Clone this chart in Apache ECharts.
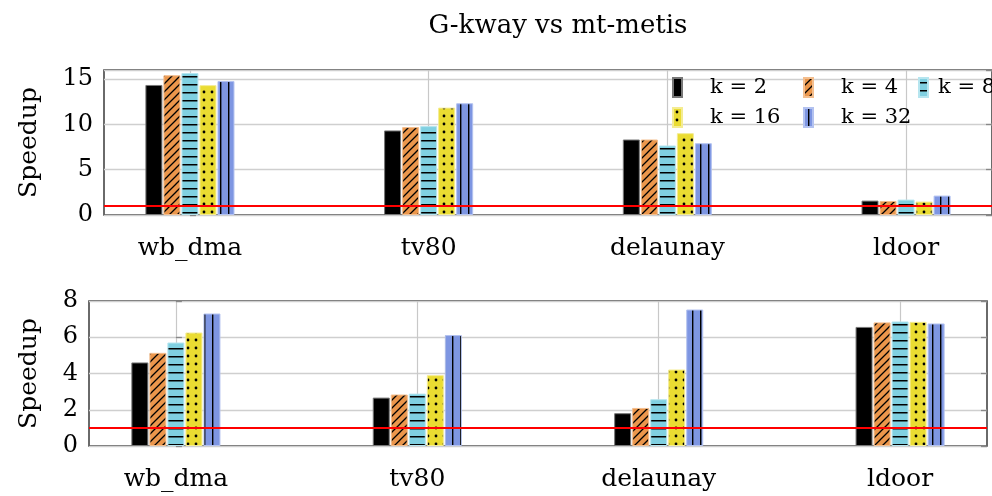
<!DOCTYPE html>
<html><head><meta charset="utf-8">
<script src="https://cdn.jsdelivr.net/npm/echarts@6/dist/echarts.min.js"></script>
<style>html,body{margin:0;padding:0;background:#fff}#c{width:992px;height:496px}</style>
</head><body><div id="c"></div>
<script>
// ---- data ----
const categories = ['wb_dma', 'tv80', 'delaunay', 'ldoor'];
const seriesNames = ['k = 2', 'k = 4', 'k = 8', 'k = 16', 'k = 32'];
const titleText = 'G-kway vs mt-metis';
const yName = 'Speedup';
// top panel
const topK2  = [14.35, 9.33, 8.33, 1.59];
const topK4  = [15.42, 9.70, 8.33, 1.55];
const topK8  = [15.67, 9.81, 7.67, 1.70];
const topK16 = [14.33, 11.85, 9.03, 1.48];
const topK32 = [14.78, 12.33, 7.92, 2.14];
// bottom panel
const botK2  = [4.61, 2.67, 1.81, 6.57];
const botK4  = [5.14, 2.84, 2.10, 6.82];
const botK8  = [5.71, 2.89, 2.58, 6.87];
const botK16 = [6.26, 3.91, 4.22, 6.85];
const botK32 = [7.31, 6.12, 7.53, 6.76];
const baseline = 1;

// ---- styles ----
const FONT = 'DejaVu Serif';
const fills = ['#000000', '#EB964B', '#80D0E1', '#EADC32', '#7E96E2'];
const borders = ['#777777', '#F3BE8E', '#B6E5EF', '#F4EC92', '#B3C2F0'];

function pattern(bg, draw) {
  const c = document.createElement('canvas');
  c.width = 8; c.height = 8;
  const g = c.getContext('2d');
  g.fillStyle = bg; g.fillRect(0, 0, 8, 8);
  g.fillStyle = '#000'; g.strokeStyle = '#000';
  draw(g);
  return { image: c, repeat: 'repeat' };
}
const patterns = [
  fills[0],
  pattern(fills[1], g => {
    g.lineWidth = 1.3;
    g.beginPath();
    g.moveTo(0, 8); g.lineTo(8, 0);
    g.moveTo(-1, 1); g.lineTo(1, -1);
    g.moveTo(7, 9); g.lineTo(9, 7);
    g.stroke();
  }),
  pattern(fills[2], g => { g.fillRect(0, 4, 8, 1.5); }),
  pattern(fills[3], g => { g.beginPath(); g.arc(4, 4, 1.4, 0, Math.PI * 2); g.fill(); }),
  pattern(fills[4], g => { g.fillRect(4, 0, 1.4, 8); })
];

const topData = [topK2, topK4, topK8, topK16, topK32];
const botData = [botK2, botK4, botK8, botK16, botK32];

const xMin = -0.36, xMax = 3.36;
const catIdx = categories.map((c, i) => i);

function xAxisFor(g) {
  return {
    type: 'value', gridIndex: g, min: xMin, max: xMax,
    axisLine: { show: false },
    axisTick: { show: false, customValues: catIdx },
    splitLine: { show: true, lineStyle: { color: '#c8c8c8', width: 1.2 } },
    axisLabel: {
      customValues: catIdx, margin: 21,
      formatter: v => categories[Math.round(v)],
      fontFamily: FONT, fontSize: 25, color: '#000'
    }
  };
}
function yAxisFor(g, max, interval, gap) {
  return {
    type: 'value', gridIndex: g, min: 0, max: max, interval: interval,
    name: yName, nameLocation: 'middle', nameRotate: 90, nameGap: gap,
    nameTextStyle: { fontFamily: FONT, fontSize: 25, color: '#000' },
    axisLine: { show: false },
    axisTick: { show: true, inside: true, length: 6, lineStyle: { color: '#888', width: 1.3 } },
    splitLine: { show: true, lineStyle: { color: '#cfcfcf', width: 1.3 } },
    axisLabel: { fontFamily: FONT, fontSize: 24, color: '#000', margin: 11 }
  };
}
function yRightFor(g, max, interval) {
  return {
    type: 'value', gridIndex: g, min: 0, max: max, interval: interval, position: 'right',
    axisLine: { show: false }, splitLine: { show: false }, axisLabel: { show: false },
    axisTick: { show: true, inside: true, length: 6, lineStyle: { color: '#888', width: 1.3 } }
  };
}

const series = [];
[topData, botData].forEach((set, g) => {
  series.push({
    type: 'line', xAxisIndex: g, yAxisIndex: g * 2, data: [], z: 2, silent: true,
    markLine: {
      silent: true, symbol: 'none', label: { show: false },
      lineStyle: { color: '#ff0000', width: 2, type: 'solid' },
      emphasis: { disabled: true },
      data: [{ yAxis: baseline }]
    }
  });
  set.forEach((vals, i) => {
    series.push({
      type: 'bar', name: seriesNames[i], xAxisIndex: g, yAxisIndex: g * 2, z: 3,
      barWidth: 17, barGap: '6%',
      itemStyle: { color: patterns[i], borderColor: borders[i], borderWidth: 1 },
      emphasis: { disabled: true },
      data: vals.map((v, j) => [catIdx[j], v])
    });
  });
});

const legendPos = [
  { left: 672, top: 77, pad: 23 },
  { left: 803, top: 77, pad: 23 },
  { left: 918, top: 77, pad: 5 },
  { left: 672, top: 107, pad: 23 },
  { left: 803, top: 107, pad: 23 }
];
const legends = seriesNames.map((n, i) => ({
  data: [n], left: legendPos[i].left, top: legendPos[i].top, padding: 0,
  icon: 'rect', itemWidth: 9, itemHeight: 19, selectedMode: false,
  textStyle: { fontFamily: FONT, fontSize: 21, color: '#000', padding: [0, 0, 0, legendPos[i].pad] }
}));

const chart = echarts.init(document.getElementById('c'), null, { renderer: 'canvas' });
chart.setOption({
  animation: false,
  backgroundColor: '#fff',
  title: {
    text: titleText, left: 553, top: 8, textAlign: 'center',
    textStyle: { fontFamily: FONT, fontSize: 26, fontWeight: 'normal', color: '#000' }
  },
  legend: legends,
  grid: [
    { left: 104, top: 70, width: 898, height: 145, show: true, borderColor: '#3a3a3a', borderWidth: 1.5, backgroundColor: 'transparent' },
    { left: 89, top: 301, width: 898, height: 145, show: true, borderColor: '#3a3a3a', borderWidth: 1.5, backgroundColor: 'transparent' }
  ],
  xAxis: [xAxisFor(0), xAxisFor(1)],
  yAxis: [
    yAxisFor(0, 16, 5, 62), yRightFor(0, 16, 5),
    yAxisFor(1, 8, 2, 47), yRightFor(1, 8, 2)
  ],
  series: series
});
</script></body></html>
